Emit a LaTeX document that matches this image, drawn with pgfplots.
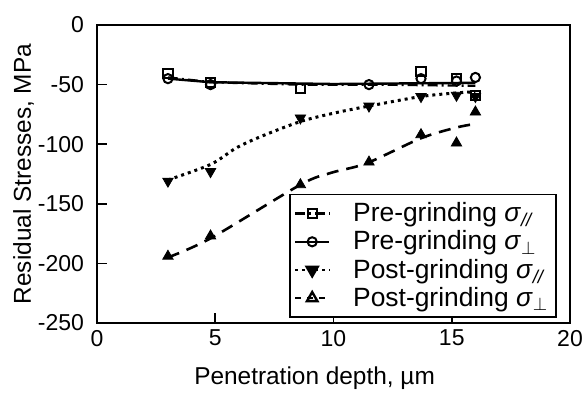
\documentclass[border=0pt]{standalone}
\usepackage{pgfplots}
\pgfplotsset{compat=1.18}
\usepackage{fontspec}
\setmainfont{Liberation Sans}
\newcommand{\ft}{\fontsize{11.5}{13.8}\selectfont}
\newcommand{\fl}{\fontsize{12.2}{14.6}\selectfont}
\newcommand{\fg}{\fontsize{13.2}{14.6}\selectfont}
\begin{document}
\begin{tikzpicture}
\useasboundingbox (-48.5pt,-36pt) rectangle (242.5pt,161.5pt);
\begin{axis}[
  scale only axis, width=236.5pt, height=149pt,
  xmin=0, xmax=20, ymin=-250, ymax=0,
  xtick={0,5,10,15,20}, xticklabels={0,5,10,15,20},
  ytick={-250,-200,-150,-100,-50,0}, yticklabels={-250,-200,-150,-100,-50,0},
  tick pos=left, tick align=inside, major tick length=5pt,
  axis line style={line width=1pt},
  every tick/.style={line width=0.8pt, black},
  tick label style={font=\ft},
  yticklabel style={xshift=-3pt},
  label style={font=\fl},
  xlabel={Penetration depth, \textmu m},
  ylabel={Residual Stresses, MPa},
  xlabel style={at={(axis description cs:0.46,-0.185)}, anchor=center},
  ylabel style={at={(axis description cs:-0.155,0.5)}, anchor=center},
  legend style={font=\fg, at={(0.9725,0.017)}, anchor=south east, draw=black, line width=0.8pt, row sep=-1pt, inner sep=2pt},
  legend cell align=left,
  legend image code/.code={%
    \draw[mark repeat=2,mark phase=2,#1] plot coordinates {(0cm,0cm) (0.3cm,0cm) (0.6cm,0cm)};
    \path[draw=none] (0.6cm,0cm) -- (0.95cm,0cm);
  },
]
% legend images
\addlegendimage{black, line width=1.2pt, dash pattern=on 5pt off 2pt on 1pt off 2pt, mark=square, mark size=2.3pt, mark options={solid, fill=white, line width=1pt}}
\addlegendentry{Pre-grinding \textit{σ}\textsubscript{\textit{//}}}
\addlegendimage{black, line width=1.2pt, mark=o, mark size=2.3pt, mark options={solid, fill=white, line width=1pt}}
\addlegendentry{Pre-grinding \textit{σ}$_{\perp}$}
\addlegendimage{black, line width=1.4pt, dotted, mark=triangle*, mark size=3pt, mark options={solid, rotate=180}}
\addlegendentry{Post-grinding \textit{σ}\textsubscript{\textit{//}}}
\addlegendimage{black, line width=1.2pt, dashed, mark=triangle, mark size=3pt, mark options={solid, fill=white, line width=1.2pt}}
\addlegendentry{Post-grinding \textit{σ}$_{\perp}$}
% trend lines
\addplot[forget plot, black, line width=1.2pt, dash pattern=on 5pt off 2pt on 1pt off 2pt] coordinates {(3,-44) (4.8,-48) (8.6,-50) (12,-50) (16,-51)};
\addplot[forget plot, black, line width=1.2pt] coordinates {(3,-45) (4.8,-48) (10,-49.5) (16,-48.5)};
\addplot[forget plot, black, line width=1.5pt, dotted, smooth] coordinates {(3,-130) (4.8,-117) (5.9,-103) (7,-93) (8.6,-81) (10,-74) (11.5,-68) (13.7,-60) (15.2,-57) (16,-56)};
\addplot[forget plot, black, line width=1.3pt, dash pattern=on 6pt off 4pt, smooth] coordinates {(3,-195) (4.8,-179) (8.6,-134) (9.9,-124) (11.4,-116) (13.7,-95) (15.2,-86) (16,-83)};
% markers
\addplot[forget plot, only marks, black, mark=square, mark size=2.3pt, mark options={fill=white, line width=1pt}] coordinates {(3,-41) (4.8,-48) (8.6,-53) (13.7,-39) (15.2,-45) (16,-59)};
\addplot[forget plot, only marks, black, mark=o, mark size=2.3pt, mark options={fill=white, line width=1pt}] coordinates {(3,-45) (4.8,-50) (11.5,-50) (13.7,-45) (15.2,-47) (16,-44)};
\addplot[forget plot, only marks, black, mark=triangle*, mark size=3pt, mark options={rotate=180}] coordinates {(3,-131) (4.8,-123) (8.6,-78) (11.5,-68) (13.7,-60) (15.2,-59) (16,-60)};
\addplot[forget plot, only marks, black, mark=triangle*, mark size=3pt] coordinates {(3,-194) (4.8,-177) (8.6,-134) (11.5,-115) (13.7,-92) (15.2,-99) (16,-73)};
\end{axis}
\end{tikzpicture}
\end{document}
